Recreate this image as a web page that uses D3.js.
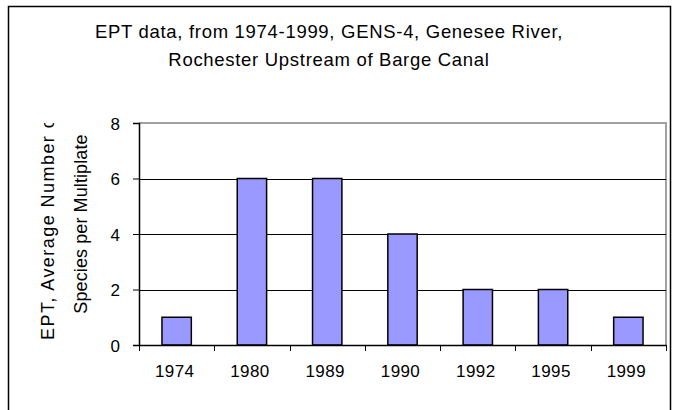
<!DOCTYPE html>
<html>
<head>
<meta charset="utf-8">
<script src="https://cdn.jsdelivr.net/npm/d3@7"></script>
<style>
  body { margin: 0; background: #fff; }
  text { font-family: "Liberation Sans", Arial, sans-serif; fill: #000; }
</style>
</head>
<body>
<svg width="682" height="410"></svg>
<script>
var years = ["1974", "1980", "1989", "1990", "1992", "1995", "1999"];
var ept = [1, 6, 6, 4, 2, 2, 1];
var yTicks = [0, 2, 4, 6, 8];
var titleLines = ["EPT data, from 1974-1999, GENS-4, Genesee River,", "Rochester Upstream of Barge Canal"];
var yTitleLines = ["EPT, Average Number of", "Species per Multiplate"];

var data = years.map(function(d, i) { return {year: d, value: ept[i]}; });

var svg = d3.select("svg"),
	margin = {top: 123, right: 16, bottom: 65, left: 139},
	width = +svg.attr("width") - margin.left - margin.right,
	height = +svg.attr("height") - margin.top - margin.bottom;

// outer chart frame
svg.append("path")
	.attr("d", "M8.5,412V6.5H670.5V412")
	.style("fill", "none")
	.style("stroke", "#000")
	.style("stroke-width", 1.5);

var x = d3.scaleBand().domain(years).range([0, width]).padding(0),
	y = d3.scaleLinear().domain([0, 8]).range([height, 0]);

var g = svg.append("g")
	.attr("transform", "translate(" + margin.left + "," + margin.top + ")");

// title
svg.append("g").selectAll("text")
	.data(titleLines)
	.enter().append("text")
	.attr("x", 329)
	.attr("y", function(d, i) { return 38 + i * 28; })
	.attr("text-anchor", "middle")
	.style("font-size", "18.5px")
	.style("letter-spacing", "0.7px")
	.text(function(d) { return d; });

// plot border (top/right grey)
g.append("path")
	.attr("d", "M0," + 0 + "H" + width + "V" + height)
	.style("fill", "none")
	.style("stroke", "#a0a0a0")
	.style("stroke-width", 2);

// gridlines
g.selectAll(".grid")
	.data(yTicks.filter(function(d) { return d > 0 && d < 8; }))
	.enter().append("line")
	.attr("class", "grid")
	.attr("x1", 0).attr("x2", width)
	.attr("y1", function(d) { return Math.round(y(d)) + 0.5; })
	.attr("y2", function(d) { return Math.round(y(d)) + 0.5; })
	.style("stroke", "#000");

// bars
var barW = x.bandwidth() * 0.39;
g.selectAll(".bar")
	.data(data)
	.enter().append("rect")
	.attr("class", "bar")
	.attr("x", function(d) { return x(d.year) + (x.bandwidth() - barW) / 2; })
	.attr("y", function(d) { return y(d.value); })
	.attr("width", barW)
	.attr("height", function(d) { return height - y(d.value); })
	.style("fill", "#9999ff")
	.style("stroke", "#000")
	.style("stroke-width", 1.5);

// y axis
var yAxis = g.append("g")
	.attr("class", "y_axis")
	.call(d3.axisLeft(y).tickValues(yTicks).tickSize(6).tickPadding(13));
yAxis.selectAll("text").style("font-size", "17px").attr("dy", "0.36em");

// x axis
var xAxis = g.append("g")
	.attr("class", "x_axis")
	.attr("transform", "translate(0," + height + ")")
	.call(d3.axisBottom(x).tickSize(0).tickPadding(20));
xAxis.selectAll("text").style("font-size", "17px").style("letter-spacing", "0.4px").attr("dx", -2);
xAxis.selectAll(".bound")
	.data(d3.range(years.length + 1))
	.enter().append("line")
	.attr("class", "bound")
	.attr("x1", function(i) { return Math.round(i * x.step()) + 0.5; })
	.attr("x2", function(i) { return Math.round(i * x.step()) + 0.5; })
	.attr("y1", 0).attr("y2", 6)
	.style("stroke", "#000");

g.selectAll(".domain").style("stroke", "#000").style("stroke-width", 1.5);
g.selectAll(".tick line").style("stroke", "#000");

// y axis title, clipped at the top of the plot
svg.append("clipPath").attr("id", "ytclip")
	.append("rect").attr("x", 0).attr("y", margin.top).attr("width", 130).attr("height", 300);

svg.append("g")
	.attr("clip-path", "url(#ytclip)")
	.selectAll("text")
	.data(yTitleLines)
	.enter().append("text")
	.attr("transform", function(d, i) {
		return i === 0 ? "translate(54,340) rotate(-90)" : "translate(87,224) rotate(-90)";
	})
	.attr("text-anchor", function(d, i) { return i === 0 ? "start" : "middle"; })
	.style("font-size", "18px")
	.style("letter-spacing", function(d, i) { return i === 0 ? "1.45px" : "0.1px"; })
	.text(function(d) { return d; });
</script>
</body>
</html>
